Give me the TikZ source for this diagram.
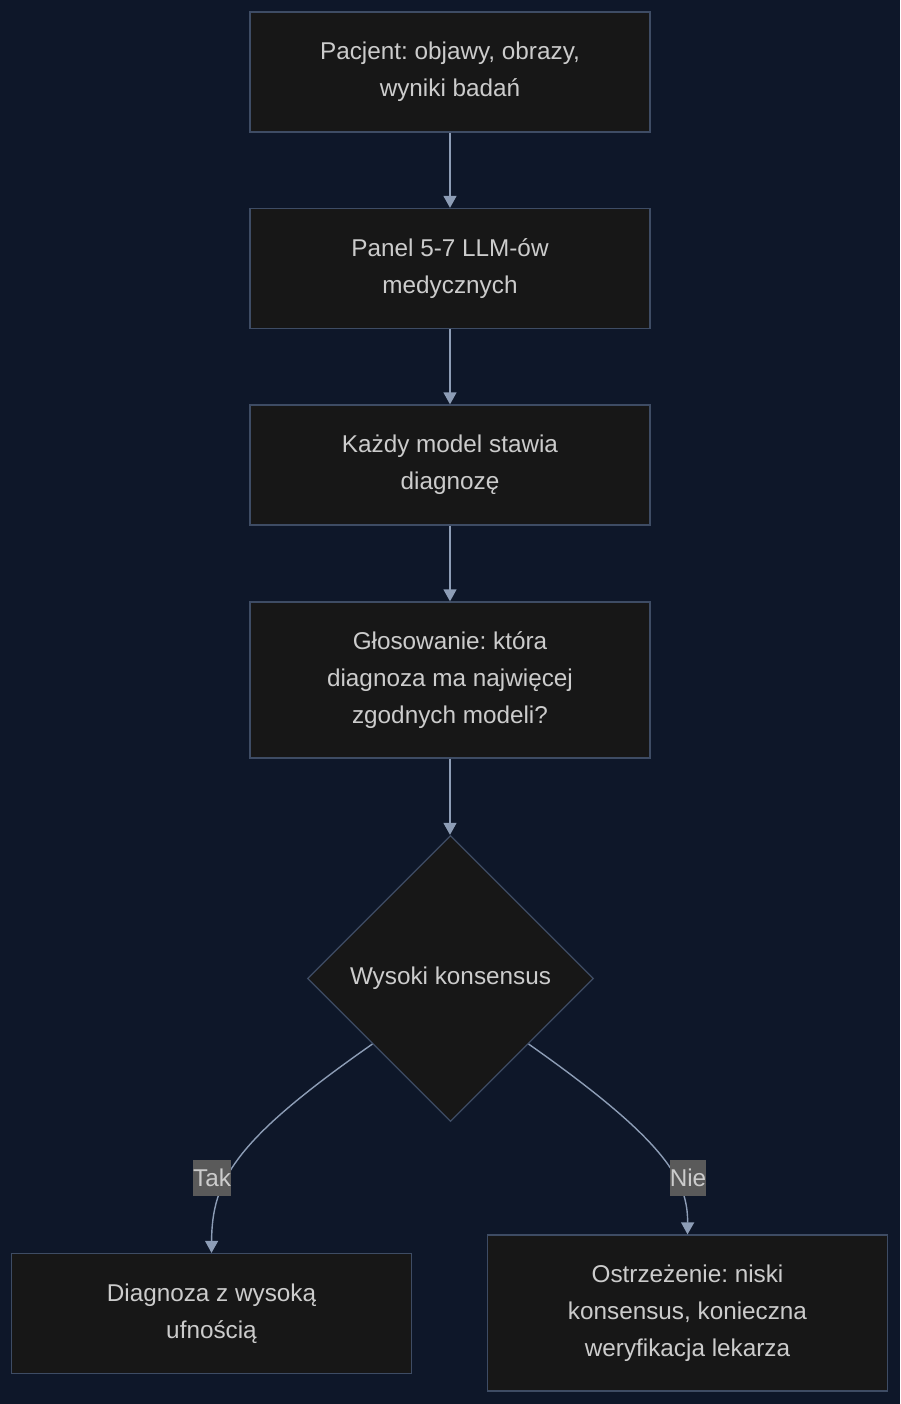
\documentclass[tikz,border=0pt]{standalone}
\usepackage{fontspec}
\setmainfont{Liberation Sans}
\usetikzlibrary{shapes.geometric,arrows.meta}
\definecolor{bgc}{HTML}{0E1729}
\definecolor{boxfill}{HTML}{171717}
\definecolor{boxline}{HTML}{3E4C64}
\definecolor{edgec}{HTML}{8D9DB6}
\definecolor{txtc}{HTML}{CCCCCC}
\definecolor{lblfill}{HTML}{5A5A5A}
\frenchspacing
\begin{document}
\begin{tikzpicture}[x=1pt,y=-1pt,
  stepbox/.style={draw=boxline,line width=1.3pt,fill=boxfill,text=txtc,minimum width=400pt,inner sep=0pt,align=center,font=\fontsize{24.3}{37}\selectfont},
  decision/.style={diamond,aspect=1,draw=boxline,line width=1.3pt,fill=boxfill,text=txtc,minimum width=286pt,minimum height=286pt,inner sep=0pt,font=\fontsize{24.3}{37}\selectfont},
  conn/.style={draw=edgec,line width=1.4pt,-{Triangle[width=13pt,length=12pt]}},
  lbl/.style={fill=lblfill,text=txtc,inner xsep=0pt,inner ysep=0pt,minimum height=36pt,font=\fontsize{24.3}{30}\selectfont}
]
\useasboundingbox (0,0) rectangle (900,1404);
\fill[bgc] (0,0) rectangle (900,1404);
\node[stepbox,minimum height=120pt] (a) at (450,72) {Pacjent: objawy, obrazy,\\wyniki badań};
\node[stepbox,minimum height=120pt] (b) at (450,268.5) {Panel 5-7 LLM-ów\\medycznych};
\node[stepbox,minimum height=120pt] (c) at (450,465) {Każdy model stawia\\diagnozę};
\node[stepbox,minimum height=156pt] (d) at (450,680) {Głosowanie: która\\diagnoza ma najwięcej\\zgodnych modeli?};
\node[decision] (e) at (450.5,978.5) {Wysoki konsensus};
\node[stepbox,minimum height=120pt] (f) at (211.5,1313.5) {Diagnoza z wysoką\\ufnością};
\node[stepbox,minimum height=156pt] (g) at (687.5,1313) {Ostrzeżenie: niski\\konsensus, konieczna\\weryfikacja lekarza};
\draw[conn] (a.south) -- (b.north);
\draw[conn] (b.south) -- (c.north);
\draw[conn] (c.south) -- (d.north);
\draw[conn] (d.south) -- (d.south |- e.north);
\draw[conn] (e.220) .. controls (235,1140) and (212,1180) .. (f.north);
\draw[conn] (e.-40) .. controls (665,1140) and (688,1180) .. (g.north);
\node[lbl] (t) at (212,1178) {Tak};
\node[lbl] (n) at (688,1178) {Nie};
\end{tikzpicture}
\end{document}
